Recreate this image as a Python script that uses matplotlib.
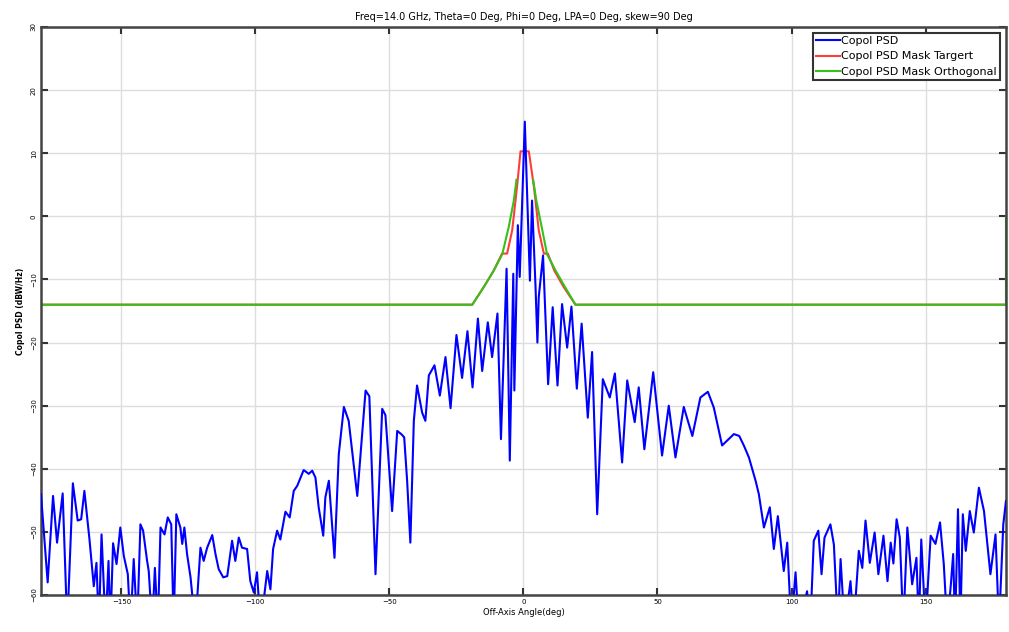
import matplotlib
matplotlib.use("Agg")
import matplotlib.pyplot as plt
import numpy as np

# Copol PSD trace (angle in deg, PSD in dB)
angle = [
    -180.0, -177.5, -175.5, -174.0, -171.9, -170.2, -168.1, -166.3, -165.0, -163.8,
    -161.9, -160.3, -159.3, -158.4, -157.4, -155.9, -154.8, -154.1, -153.1, -151.8,
    -150.4, -149.1, -147.6, -146.6, -145.4, -144.1, -142.9, -141.9, -140.4, -139.8,
    -138.5, -137.5, -136.4, -135.4, -133.9, -132.7, -131.4, -130.5, -129.5, -128.0,
    -127.3, -126.5, -125.5, -124.2, -122.4, -120.5, -119.3, -118.0, -116.1, -114.9,
    -113.7, -112.0, -110.5, -108.7, -107.5, -106.2, -105.0, -103.1, -101.9, -100.6,
    -99.4, -98.1, -95.6, -94.4, -93.4, -91.9, -90.7, -88.8, -87.2, -85.7,
    -84.4, -82.0, -80.1, -78.8, -77.6, -76.4, -74.7, -73.9, -72.6, -70.5,
    -68.9, -67.0, -65.2, -62.0, -58.9, -57.5, -55.2, -52.7, -51.5, -49.0,
    -47.1, -45.6, -44.5, -43.4, -42.2, -40.9, -39.7, -37.8, -36.6, -35.3,
    -33.2, -31.2, -29.1, -27.2, -25.0, -22.9, -20.9, -19.0, -17.0, -15.4,
    -13.3, -11.7, -9.7, -8.4, -6.3, -5.1, -3.8, -3.4, -2.1, -1.4,
    0.5, 2.4, 3.2, 4.5, 5.2, 5.7, 7.3, 9.2, 10.9, 12.7,
    14.4, 16.3, 17.9, 19.9, 21.7, 24.0, 25.6, 27.5, 29.6, 32.2,
    34.1, 36.8, 38.7, 41.5, 43.0, 45.1, 48.4, 51.7, 54.2, 56.7,
    59.8, 63.0, 66.0, 68.8, 71.0, 74.1, 78.5, 80.5, 82.2, 84.1,
    86.6, 87.8, 89.7, 91.9, 93.4, 94.9, 97.1, 98.4, 99.9, 101.5,
    102.7, 105.8, 107.0, 108.3, 110.0, 111.2, 112.3, 114.5, 115.8, 117.3,
    118.3, 119.8, 122.0, 123.2, 125.1, 126.4, 127.6, 129.2, 131.0, 132.4,
    134.3, 135.8, 137.0, 138.0, 139.2, 140.4, 141.7, 143.2, 145.0, 146.6,
    147.5, 148.4, 150.0, 151.9, 153.7, 155.4, 156.8, 158.1, 159.5, 160.3,
    161.0, 162.1, 163.0, 163.9, 165.0, 166.5, 168.0, 169.9, 171.8, 174.2,
    176.1, 177.4, 179.0, 180.0,
]
psd = [
    -44.0, -58.0, -44.3, -51.7, -43.9, -65, -42.3, -48.2, -48.0, -43.5,
    -51.2, -58.6, -54.9, -65, -50.4, -65, -54.6, -65, -51.8, -55.1,
    -49.3, -53.8, -56.7, -65, -54.3, -65, -48.8, -49.8, -54.6, -56.2,
    -65, -55.7, -65, -49.3, -50.4, -47.7, -48.8, -65, -47.2, -49.3,
    -51.9, -49.3, -53.5, -57.2, -65, -52.5, -54.6, -52.5, -50.5, -53.5,
    -55.9, -57.2, -57.0, -51.4, -54.6, -50.9, -52.5, -52.7, -57.8, -59.6,
    -56.4, -65, -56.2, -59.1, -52.7, -49.8, -51.2, -46.8, -47.7, -43.5,
    -42.7, -40.2, -40.8, -40.3, -41.4, -46.1, -50.6, -44.5, -41.9, -54.1,
    -37.7, -30.2, -32.4, -44.3, -27.6, -28.5, -56.7, -30.5, -31.5, -46.7,
    -34.0, -34.5, -35.0, -41.9, -51.7, -32.4, -26.8, -31.1, -32.4, -25.2,
    -23.6, -28.4, -22.3, -30.4, -18.8, -25.6, -18.2, -27.1, -16.2, -24.5,
    -16.8, -22.3, -15.4, -35.3, -8.3, -38.7, -9.1, -27.6, -1.4, -9.6,
    15.0, -10.2, 2.5, -11.2, -20.0, -12.8, -6.2, -26.6, -14.4, -26.8,
    -13.9, -20.8, -14.3, -27.3, -17.0, -31.9, -21.5, -47.2, -25.8, -28.7,
    -24.9, -39.0, -26.0, -32.6, -27.1, -36.9, -24.7, -37.9, -30.0, -38.2,
    -30.2, -34.8, -28.7, -27.8, -30.3, -36.3, -34.5, -34.8, -36.3, -38.2,
    -41.9, -44.0, -49.3, -46.1, -52.7, -47.5, -56.2, -51.7, -65, -56.4,
    -65, -59.4, -65, -51.4, -49.8, -56.7, -50.9, -48.8, -52.0, -65,
    -54.3, -65, -57.8, -65, -53.0, -55.7, -48.2, -54.9, -50.1, -56.7,
    -50.6, -57.8, -51.7, -55.0, -48.0, -50.9, -65, -49.3, -58.3, -54.1,
    -65, -51.2, -65, -50.6, -51.9, -48.5, -55.1, -65, -58.0, -53.5,
    -65, -46.4, -65, -47.2, -53.0, -46.7, -50.1, -43.0, -46.7, -56.7,
    -50.4, -65, -48.8, -45.1,
]

# Target mask
target_angle = [-180.0, -19.1, -14.8, -11.1, -8.0, -6.1, -4.2, -2.4, -1.1, 2.0, 3.9, 5.7, 7.6, 9.1, 11.5, 15.0, 19.4, 180.0]
target_psd = [-14.0, -14.0, -11.2, -8.6, -5.9, -5.9, -2.2, 4.7, 10.3, 10.3, 4.7, -2.2, -5.9, -5.9, -8.6, -11.2, -14.0, -14.0]

# Orthogonal mask (hidden under the target mask around boresight)
ortho_angle = [-180.0, -19.1, -14.8, -11.1, -7.9, -5.5, -3.6, -2.6, 0.5, 3.6, 4.8, 6.8, 8.8, 12.0, 15.5, 19.4, 180.0, 180.0]
ortho_psd = [-14.0, -14.0, -11.2, -8.6, -6.0, -1.7, 2.5, 5.8, np.nan, 5.8, 2.5, -1.7, -6.0, -8.6, -11.2, -14.0, -14.0, 0.0]

xticks = [-150, -100, -50, 0, 50, 100, 150]
yticks = [30, 20, 10, 0, -10, -20, -30, -40, -50, -60]

fig = plt.figure(figsize=(10.09, 6.32), dpi=100)
ax = fig.add_axes([0.0406, 0.0585, 0.9564, 0.8988])

ax.plot(angle, psd, color="#0000ff", lw=1.5, label="Copol PSD", zorder=3)
ax.plot(target_angle, target_psd, color="#ff3b3b", lw=1.5, label="Copol PSD Mask Targert", zorder=2)
ax.plot(ortho_angle, ortho_psd, color="#33c21a", lw=1.5, label="Copol PSD Mask Orthogonal", zorder=2.5)

ax.set_xlim(-180, 180)
ax.set_ylim(-60, 30)
ax.set_xticks(xticks)
ax.set_yticks(yticks)
ax.tick_params(axis="both", direction="in", top=True, right=True, length=5, width=1.5,
               labelsize=5, color="#333333", pad=3)
for lbl in ax.get_yticklabels():
    lbl.set_rotation(90)
    lbl.set_va("center")
ax.grid(True, color="#dddddd", lw=1)
ax.set_axisbelow(True)
for sp in ax.spines.values():
    sp.set_linewidth(1.8)
    sp.set_color("#444444")

ax.set_xlabel("Off-Axis Angle(deg)", fontsize=6, labelpad=2)
ax.set_ylabel("Copol PSD (dBW/Hz)", fontsize=5.5, labelpad=4, fontweight="bold")
ax.set_title("Freq=14.0 GHz, Theta=0 Deg, Phi=0 Deg, LPA=0 Deg, skew=90 Deg", fontsize=7, pad=5)

leg = ax.legend(loc="upper right", fontsize=8, frameon=True, fancybox=False,
                borderpad=0.3, labelspacing=0.5, handlelength=2.2, handletextpad=0.1,
                borderaxespad=0.5)
leg.get_frame().set_edgecolor("#333333")
leg.get_frame().set_linewidth(1.5)
leg.get_frame().set_alpha(1)

fig.savefig("out.png", dpi=100)
